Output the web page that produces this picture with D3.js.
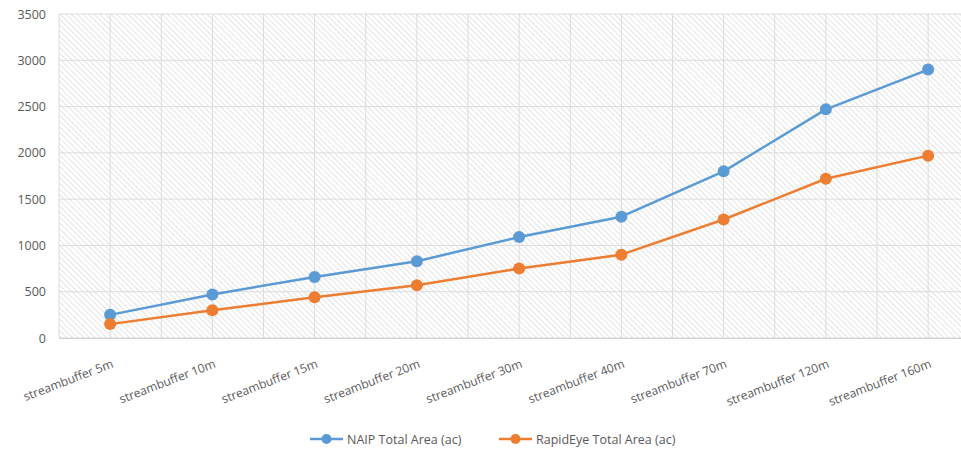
<!DOCTYPE html>
<html><head><meta charset="utf-8">
<script src="https://cdn.jsdelivr.net/npm/d3@7"></script>
<style>body{margin:0;background:#fff}svg{display:block}</style>
</head><body><div id="chart"></div>
<script>
const categories = ["streambuffer 5m","streambuffer 10m","streambuffer 15m","streambuffer 20m","streambuffer 30m","streambuffer 40m","streambuffer 70m","streambuffer 120m","streambuffer 160m"];
const naipValues = [250, 470, 660, 830, 1090, 1310, 1800, 2470, 2900];
const rapidEyeValues = [150, 300, 440, 570, 750, 900, 1280, 1720, 1970];
const seriesNames = ["NAIP Total Area (ac)", "RapidEye Total Area (ac)"];
const seriesColors = ["#5B9BD5", "#ED7D31"];
const yTicks = [0, 500, 1000, 1500, 2000, 2500, 3000, 3500];

const W = 961, H = 449;
const mLeft = 59, mTop = 14, mBottom = 338;
const step = 102.25;
const mRight = mLeft + step * categories.length;

const svg = d3.select("#chart").append("svg").attr("width", W).attr("height", H)
  .style("font-family", "'Open Sans', 'Noto Sans', sans-serif");

const defs = svg.append("defs");
const pat = defs.append("pattern").attr("id","hatch").attr("patternUnits","userSpaceOnUse")
  .attr("width", 4).attr("height", 4).attr("patternTransform","rotate(-45)");
pat.append("rect").attr("width",4).attr("height",4).attr("fill","#fff");
pat.append("line").attr("x1",0).attr("y1",0).attr("x2",0).attr("y2",4)
  .attr("stroke","#d3d3d3").attr("stroke-width",1.2);

const x = d3.scaleBand().domain(categories).range([mLeft, mRight]).paddingInner(0).paddingOuter(0);
const y = d3.scaleLinear().domain([0, 3500]).range([mBottom, mTop]);

svg.append("rect").attr("x", mLeft).attr("y", mTop).attr("width", mRight - mLeft).attr("height", mBottom - mTop)
  .attr("fill", "url(#hatch)");

svg.append("g").selectAll("line").data(yTicks).join("line")
  .attr("x1", mLeft).attr("x2", mRight).attr("y1", d => y(d)).attr("y2", d => y(d))
  .attr("stroke", "#dcdcdc").attr("stroke-width", 1);

const vlines = [];
categories.forEach((c) => { vlines.push(x(c)); vlines.push(x(c) + x.bandwidth() / 2); });
vlines.push(mRight);
svg.append("g").selectAll("line").data(vlines).join("line")
  .attr("x1", d => d).attr("x2", d => d).attr("y1", mTop).attr("y2", mBottom)
  .attr("stroke", "#dcdcdc").attr("stroke-width", 1);

svg.append("line").attr("x1", mLeft).attr("x2", mRight).attr("y1", mBottom + 0.5).attr("y2", mBottom + 0.5)
  .attr("stroke", "#d0d0d0");

const yAxis = d3.axisLeft(y).tickValues(yTicks).tickFormat(d3.format("d")).tickSize(0).tickPadding(13);
const gy = svg.append("g").attr("transform", `translate(${mLeft},0)`).call(yAxis);
gy.select(".domain").remove();
gy.selectAll("text").attr("fill", "#595959").style("font-size", "12.5px").style("font-family", "'Open Sans', 'Noto Sans', sans-serif");

const cx = d => x(d) + x.bandwidth() / 2;
svg.append("g").selectAll("text").data(categories).join("text")
  .attr("transform", d => `translate(${cx(d) + 4},${mBottom + 29}) rotate(-21)`)
  .attr("text-anchor", "end")
  .attr("fill", "#595959").style("font-size", "12px")
  .text(d => d);

const series = [naipValues, rapidEyeValues];
const line = d3.line().x((d, i) => cx(categories[i])).y(d => y(d));
series.forEach((vals, s) => {
  svg.append("path").datum(vals).attr("d", line).attr("fill", "none")
    .attr("stroke", seriesColors[s]).attr("stroke-width", 2.5).attr("stroke-linejoin", "round");
  svg.append("g").selectAll("circle").data(vals).join("circle")
    .attr("cx", (d, i) => cx(categories[i])).attr("cy", d => y(d)).attr("r", 6)
    .attr("fill", seriesColors[s]);
});

const legendX = [310, 499];
seriesNames.forEach((n, s) => {
  const g = svg.append("g").attr("transform", `translate(${legendX[s]},439)`);
  g.append("line").attr("x1", 0).attr("x2", 33).attr("y1", 0).attr("y2", 0)
    .attr("stroke", seriesColors[s]).attr("stroke-width", 2.5);
  g.append("circle").attr("cx", 16.5).attr("cy", 0).attr("r", 5).attr("fill", seriesColors[s]);
  g.append("text").attr("x", 37).attr("y", 4.5).attr("fill", "#595959").style("font-size", "12.5px").text(n);
});
</script></body></html>
